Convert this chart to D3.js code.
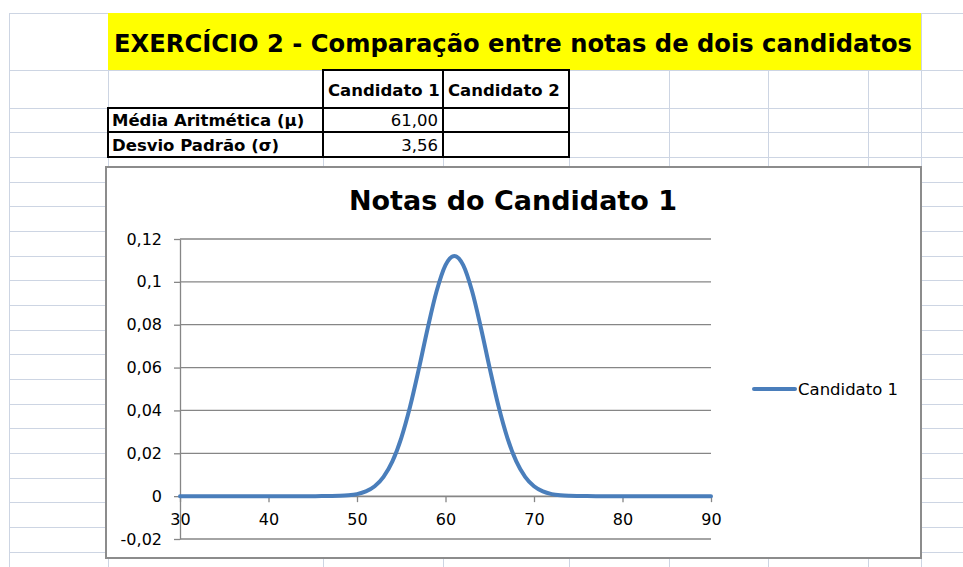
<!DOCTYPE html>
<html>
<head>
<meta charset="utf-8">
<script src="https://cdn.jsdelivr.net/npm/d3@7/dist/d3.min.js"></script>
<style>
  body { margin: 0; background: #fff; }
  svg { display: block; font-family: "DejaVu Sans", sans-serif; }
</style>
</head>
<body>
<svg id="sheet" width="963" height="567"></svg>
<script>
// data
const tituloPlanilha = "EXERCÍCIO 2 - Comparação entre notas de dois candidatos";
const candidatos = ["Candidato 1", "Candidato 2"];
const medidas = ["Média Aritmética (μ)", "Desvio Padrão (σ)"];
const valoresCandidato1 = [61.00, 3.56];

const tituloGrafico = "Notas do Candidato 1";
const notas = [30, 31, 32, 33, 34, 35, 36, 37, 38, 39, 40, 41, 42, 43, 44, 45, 46, 47, 48, 49,
  50, 51, 52, 53, 54, 55, 56, 57, 58, 59, 60, 61, 62, 63, 64, 65, 66, 67, 68, 69,
  70, 71, 72, 73, 74, 75, 76, 77, 78, 79, 80, 81, 82, 83, 84, 85, 86, 87, 88, 89, 90];
const densidade = [0, 0, 0, 0, 0, 0, 0, 0, 0, 0, 0, 0, 0, 0, 0, 0, 0.00001, 0.00005, 0.00014, 0.00038,
  0.00095, 0.0022, 0.0046, 0.0090, 0.0162, 0.0271, 0.0418, 0.0596, 0.0786, 0.0957, 0.1078, 0.1121, 0.1078, 0.0957, 0.0786, 0.0596, 0.0418, 0.0271, 0.0162, 0.0090,
  0.0046, 0.0022, 0.00095, 0.00038, 0.00014, 0.00005, 0.00001, 0, 0, 0, 0, 0, 0, 0, 0, 0, 0, 0, 0, 0, 0];
const xTicks = [30, 40, 50, 60, 70, 80, 90];
const yTicks = [-0.02, 0, 0.02, 0.04, 0.06, 0.08, 0.1, 0.12];

// spreadsheet layout
const colunas = [9, 108, 323, 443, 569, 669, 768, 868, 921];
const linhas = [13, 70, 108, 132, 157, 182, 206, 231, 256, 280, 305, 330, 354, 379, 404, 428, 453, 478, 502, 527, 552];

const ptBR = d3.formatLocale({ decimal: ",", thousands: ".", grouping: [3], currency: ["R$", ""], minus: "-" });
const fmtTick = ptBR.format(".2~f");
const fmtValor = ptBR.format(".2f");

const svg = d3.select('#sheet');

// GRID
const grade = svg.append('g').attr('stroke', '#cdd5e3').attr('stroke-width', 1);
grade.selectAll('line.v').data(colunas).enter().append('line')
  .attr('x1', d => d + 0.5).attr('x2', d => d + 0.5)
  .attr('y1', 13).attr('y2', 567);
grade.selectAll('line.h').data(linhas).enter().append('line')
  .attr('x1', 9).attr('x2', 963)
  .attr('y1', d => d + 0.5).attr('y2', d => d + 0.5);

// YELLOW TITLE
svg.append('rect')
  .attr('x', 108).attr('y', 13).attr('width', 813).attr('height', 57)
  .attr('fill', '#ffff00');
svg.append('text')
  .attr('x', 114).attr('y', 52)
  .attr('font-size', 24).attr('font-weight', 'bold')
  .attr('textLength', 798).attr('lengthAdjust', 'spacingAndGlyphs')
  .text(tituloPlanilha);

// TABLE
const tabela = svg.append('g');
const bordas = tabela.append('g').attr('stroke', '#000').attr('stroke-width', 2).attr('fill', 'none');
candidatos.forEach((c, i) => {
  bordas.append('rect').attr('x', colunas[2 + i]).attr('y', 70)
    .attr('width', colunas[3 + i] - colunas[2 + i]).attr('height', 38);
  tabela.append('text')
    .attr('x', colunas[2 + i] + 5).attr('y', 96)
    .attr('font-size', 16.5).attr('font-weight', 'bold')
    .text(c);
});
medidas.forEach((m, j) => {
  const y0 = linhas[2 + j], y1 = linhas[3 + j];
  [1, 2, 3].forEach(k => {
    bordas.append('rect').attr('x', colunas[k]).attr('y', y0)
      .attr('width', colunas[k + 1] - colunas[k]).attr('height', y1 - y0);
  });
  tabela.append('text')
    .attr('x', 112).attr('y', y1 - 6)
    .attr('font-size', 16.5).attr('font-weight', 'bold')
    .text(m);
  tabela.append('text')
    .attr('x', 438).attr('y', y1 - 6)
    .attr('font-size', 16.5).attr('text-anchor', 'end')
    .text(fmtValor(valoresCandidato1[j]));
});

// CHART BOX
svg.append('rect')
  .attr('x', 106).attr('y', 167).attr('width', 815).attr('height', 391)
  .attr('fill', '#fff').attr('stroke', '#8c8c8c').attr('stroke-width', 2);

svg.append('text')
  .attr('x', 513).attr('y', 210)
  .attr('text-anchor', 'middle')
  .attr('font-size', 27).attr('font-weight', 'bold')
  .text(tituloGrafico);

const x = d3.scaleLinear().domain([30, 90]).range([180, 711]);
const y = d3.scaleLinear().domain([-0.02, 0.12]).range([539, 239]);

// gridlines
svg.append('g')
  .selectAll('line')
  .data(yTicks)
  .enter().append('line')
  .attr('x1', 180).attr('x2', 711)
  .attr('y1', d => y(d)).attr('y2', d => y(d))
  .attr('stroke', '#868686').attr('stroke-width', 1.3);

const eixoY = svg.append('g')
  .attr('transform', 'translate(180,0)')
  .call(d3.axisLeft(y).tickValues(yTicks).tickFormat(fmtTick)
    .tickSizeInner(6).tickSizeOuter(0).tickPadding(12));

const eixoX = svg.append('g')
  .attr('transform', `translate(0,${y(0)})`)
  .call(d3.axisBottom(x).tickValues(xTicks).tickFormat(fmtTick)
    .tickSizeInner(6).tickSizeOuter(0).tickPadding(11));

[eixoY, eixoX].forEach(eixo => {
  eixo.selectAll('path, line').attr('stroke', '#868686').attr('stroke-width', 1.3);
  eixo.selectAll('text').attr('font-size', 16).attr('fill', '#000')
    .attr('font-family', '"DejaVu Sans", sans-serif');
});

// curve
const linha = d3.line()
  .x((d, i) => x(notas[i]))
  .y(d => y(d))
  .curve(d3.curveMonotoneX);

svg.append('path')
  .datum(densidade)
  .attr('d', linha)
  .attr('fill', 'none')
  .attr('stroke', '#4a7ebb')
  .attr('stroke-width', 4)
  .attr('stroke-linecap', 'round');

// legend
const legenda = svg.append('g');
legenda.append('line')
  .attr('x1', 754).attr('x2', 795).attr('y1', 389).attr('y2', 389)
  .attr('stroke', '#4a7ebb').attr('stroke-width', 4).attr('stroke-linecap', 'round');
legenda.append('text')
  .attr('x', 798).attr('y', 395)
  .attr('font-size', 16.5)
  .text(candidatos[0]);
</script>
</body>
</html>
